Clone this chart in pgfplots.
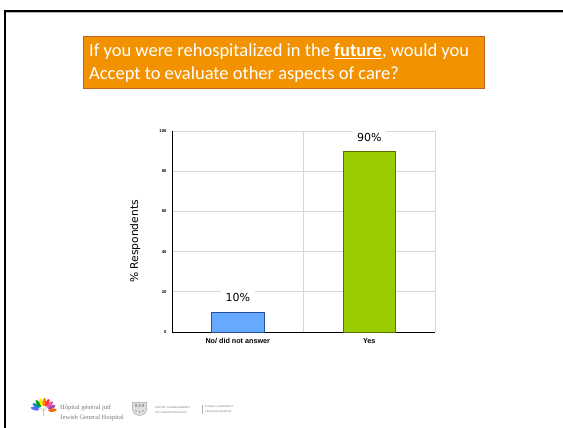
\documentclass[border=0pt]{standalone}
\usepackage{pgfplots}
\pgfplotsset{compat=1.18}
\usepackage{fontspec}
\setmainfont{Liberation Sans}
\newfontfamily\calibri{Carlito}
\newfontfamily\dejavu{DejaVu Sans}
\newfontfamily\serif{Liberation Serif}

\definecolor{titleorange}{RGB}{243,146,0}
\definecolor{titleedge}{RGB}{196,98,40}
\definecolor{barblue}{RGB}{102,170,255}
\definecolor{barblueedge}{RGB}{40,80,150}
\definecolor{bargreen}{RGB}{153,204,0}
\definecolor{bargreenedge}{RGB}{85,115,0}
\definecolor{gridgray}{RGB}{215,215,215}
\definecolor{logogray}{RGB}{120,120,120}

\begin{document}
\begin{tikzpicture}[x=1pt,y=1pt]
\useasboundingbox (0,0) rectangle (563,428);
\fill[white] (0,0) rectangle (563,428);

% slide frame
\draw[black, line width=2pt] (4.5,0) -- (4.5,417) -- (563,417);
\draw[gray!60, line width=0.6pt] (5.5,415.6) -- (563,415.6);

% title box
\draw[fill=titleorange, draw=titleedge, line width=1.3pt] (83.5,339.5) rectangle (484.5,391.3);
\node[anchor=base west, inner sep=0pt, text=white, font=\calibri\fontsize{18.5}{22}\selectfont]
  at (89,371.3) {If you were rehospitalized in the \underline{\textbf{future}}, would you};
\node[anchor=base west, inner sep=0pt, text=white, font=\calibri\fontsize{18.5}{22}\selectfont]
  at (89,348.7) {Accept to evaluate other aspects of care?};

\begin{axis}[
  at={(172pt,96pt)}, anchor=south west,
  scale only axis, width=263pt, height=201pt,
  xmin=-0.5, xmax=1.5, ymin=0, ymax=100,
  xtick={0,1}, xticklabels={No/ did not answer, Yes},
  minor xtick={0.5,1.5},
  ytick={0,20,40,60,80,100},
  xminorgrids, ymajorgrids,
  grid style={draw=gridgray, line width=0.7pt},
  minor grid style={draw=gridgray, line width=0.7pt},
  axis x line*=bottom, axis y line*=left,
  axis line style={black, line width=0.9pt, -},
  major tick length=0pt, minor tick length=0pt,
  /pgf/number format/assume math mode=true,
  yticklabel style={font=\fontsize{4.2}{4.2}\selectfont\bfseries, xshift=-2pt},
  xticklabel style={font=\fontsize{7.2}{7.2}\selectfont\bfseries, yshift=-3pt},
  ylabel={\% Respondents},
  ylabel style={at={(axis description cs:-0.14,0.45)}, anchor=center,
    font=\dejavu\fontsize{10.7}{10.7}\selectfont},
  clip=false,
  nodes near coords={\pgfmathprintnumber[assume math mode=true]{\pgfplotspointmeta}\%},
  nodes near coords style={font=\dejavu\fontsize{11}{11}\selectfont, fill=white,
    inner xsep=5pt, inner ysep=3pt, anchor=center, yshift=14pt},
]
\addplot[ybar, bar width=52.6pt, bar shift=0pt, fill=barblue, draw=barblueedge, line width=0.7pt]
  coordinates {(0,10)};
\addplot[ybar, bar width=52.6pt, bar shift=0pt, fill=bargreen, draw=bargreenedge, line width=0.7pt]
  coordinates {(1,90)};
\end{axis}

% hospital logo: tree
\begin{scope}[shift={(43.5,15)}]
  \draw[gray!45, line width=1.2pt] (0,-3) -- (0,5);
  \draw[gray!45, line width=0.6pt] (0,2) -- (-4,6) (0,2) -- (4,6);
  \foreach \ang/\col in {165/blue!60, 145/cyan!70!blue, 125/green!65!black, 105/yellow!90!orange,
                         85/orange, 65/red!80, 45/magenta!70, 25/violet!70, 5/orange!80!red} {
    \fill[\col] ([shift={(0,2)}]\ang:9) ellipse [x radius=1.7, y radius=4.2, rotate=\ang-90];
  }
\end{scope}
\node[anchor=west, inner sep=0pt, text=logogray, font=\serif\fontsize{6.5}{6.5}\selectfont] at (60,20) {Hôpital général juif};
\node[anchor=west, inner sep=0pt, text=logogray, font=\serif\fontsize{6.5}{6.5}\selectfont] at (60,10.5) {Jewish General Hospital};

% university crest
\draw[fill=gray!25, draw=gray!70, line width=0.5pt] (132.5,25.5) -- (146.5,25.5) -- (146.5,18) .. controls (146.5,14) and (141,12.5) .. (139.5,12.5) .. controls (138,12.5) and (132.5,14) .. (132.5,18) -- cycle;
\fill[gray!70] (135,21) rectangle (137,24) (138.5,21) rectangle (140.5,24) (142,21) rectangle (144,24);
\fill[gray!70] (136,17) circle (1) (139.5,16) circle (1) (143,17) circle (1);
\node[anchor=west, inner sep=0pt, text=logogray, font=\fontsize{2.6}{3}\selectfont] at (155,21) {HÔPITAL D'ENSEIGNEMENT};
\node[anchor=west, inner sep=0pt, text=logogray, font=\fontsize{2.6}{3}\selectfont] at (155,16) {DE L'UNIVERSITÉ MCGILL};
\draw[gray!60, line width=0.3pt] (202,14) -- (202,23);
\node[anchor=west, inner sep=0pt, text=logogray, font=\fontsize{2.6}{3}\selectfont] at (205,21) {A MCGILL UNIVERSITY};
\node[anchor=west, inner sep=0pt, text=logogray, font=\fontsize{2.6}{3}\selectfont] at (205,16) {TEACHING HOSPITAL};
\end{tikzpicture}
\end{document}
